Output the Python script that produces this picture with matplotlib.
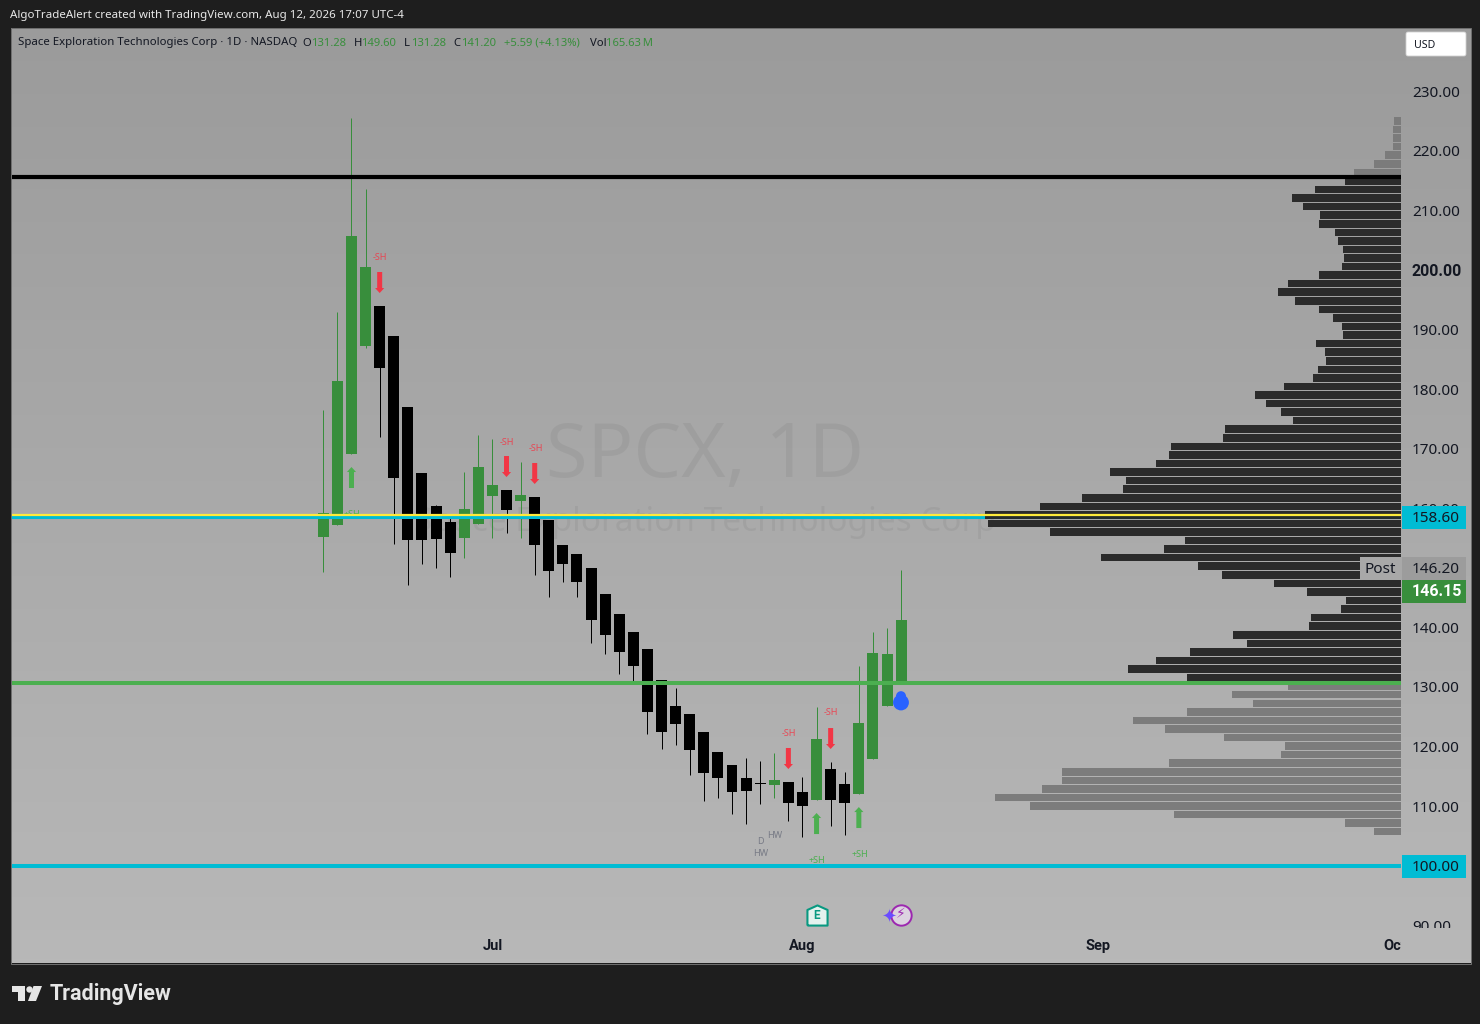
import numpy as np
import matplotlib
matplotlib.use('Agg')
import matplotlib.pyplot as plt
from matplotlib.colors import LinearSegmentedColormap
from matplotlib.patches import Rectangle, FancyBboxPatch, Polygon, Circle
from matplotlib.transforms import Bbox

plt.rcParams['font.family'] = ['Noto Sans', 'DejaVu Sans']

# daily candles
opens = [155.18, 157.19, 169.12, 187.25, 193.97, 188.93, 177.01, 165.92, 160.38, 157.70, 155.01, 157.36, 162.06, 163.07,
         161.22, 161.89, 158.03, 153.84, 152.32, 149.97, 145.61, 142.25, 139.23, 136.37, 131.16, 126.80, 125.45, 122.43,
         119.07, 116.89, 114.71, 113.70, 113.53, 114.03, 112.36, 111.01, 116.22, 113.70, 112.02, 117.90, 126.80, 130.70]
highs = [176.51, 192.96, 225.54, 213.62, 193.97, 188.93, 177.01, 165.92, 160.55, 158.37, 166.09, 172.31, 171.64, 163.07,
         167.77, 161.89, 158.03, 153.84, 152.32, 149.97, 145.61, 142.25, 139.23, 136.37, 131.16, 129.82, 125.45, 122.43,
         119.07, 116.89, 118.06, 117.56, 118.90, 114.03, 114.88, 126.63, 117.39, 115.71, 133.52, 139.23, 139.90, 149.60]
lows = [149.30, 157.19, 169.12, 186.92, 171.97, 154.00, 147.12, 150.65, 149.97, 148.47, 151.65, 157.36, 155.01, 155.85,
        155.01, 148.80, 145.10, 147.62, 145.10, 137.38, 135.53, 132.17, 131.00, 122.10, 119.58, 120.25, 115.21, 110.84,
        111.35, 108.66, 106.98, 110.34, 111.35, 107.49, 104.80, 111.01, 106.65, 105.13, 112.02, 117.90, 126.80, 130.70]
closes = [159.21, 181.38, 205.73, 200.52, 183.56, 165.08, 154.67, 154.67, 154.84, 152.49, 159.88, 166.93, 163.91, 159.71,
          162.23, 153.84, 149.47, 150.65, 147.62, 141.24, 138.72, 135.87, 133.52, 125.79, 122.43, 123.77, 119.41, 115.55,
          114.71, 112.36, 112.52, 113.70, 114.37, 110.50, 110.00, 121.26, 111.01, 110.50, 123.94, 135.70, 135.53, 141.20]

# volume profile, top row to bottom row
profile = [7, 8, 8, 8, 16, 27, 47, 56, 86, 109, 98, 81, 82, 66, 63, 58, 57, 59, 82, 113, 123, 106, 82, 68, 59, 58, 85, 76,
           75, 83, 88, 117, 146, 135, 120, 108, 176, 178, 230, 232, 245, 291, 275, 278, 319, 361, 416, 413, 351, 216, 237,
           300, 203, 179, 127, 94, 55, 60, 90, 92, 168, 154, 211, 245, 273, 214, 113, 169, 148, 214, 268, 236, 177, 116,
           120, 232, 339, 339, 359, 406, 371, 227, 56, 27]
profile_top = 225.76
profile_bottom = 104.97
profile_gray_top = 7
profile_gray_bottom = 18

# signal arrows: bar, tail, tip, label price
sell_bars = [4, 13, 15, 33, 36]
sell_tails = [199.68, 168.78, 167.61, 119.75, 123.10]
sell_tips = [196.15, 165.25, 164.08, 116.22, 119.58]
sell_labels = [202.25, 171.30, 170.17, 122.31, 125.84]
buy_bars = [2, 35, 38]
buy_tails = [163.41, 105.30, 106.31]
buy_tips = [166.93, 108.83, 109.83]
buy_labels = [159.21, 101.05, 102.05]

price_ticks = [230, 220, 210, 200, 190, 180, 170, 160, 150, 140, 130, 120, 110, 100, 90]
month_bars = [12, 34, 55, 76]
month_names = ['Jul', 'Aug', 'Sep', 'Oct']

black_level = 215.63
yellow_level = 158.87
cyan_levels = [158.60, 100.00]
green_level = 130.66
post_price = 146.20
last_price = 146.15

W, H = 1480, 1024
GREEN = '#388e3c'
BG = '#1e1e1e'
INK = '#131722'


def frame(x0, y0, x1, y1):
    return [x0 / W, 1 - y1 / H, (x1 - x0) / W, (y1 - y0) / H]


fig = plt.figure(figsize=(W / 100, H / 100), dpi=100, facecolor=BG)

# chart background
bg = fig.add_axes(frame(11, 28, 1471, 963), zorder=0)
bg.imshow(np.linspace(0, 1, 256).reshape(-1, 1), cmap=LinearSegmentedColormap.from_list('g', ['#9b9b9b', '#b8b8b8']),
          aspect='auto', extent=(0, 1, 0, 1))
bg.axis('off')

ax = fig.add_axes(frame(11, 28, 1401, 963), zorder=1, facecolor='none')
x = np.arange(len(opens))
o, h, l, c = map(np.array, (opens, highs, lows, closes))
colors = np.where(c > o, GREEN, '#000000')

ax.vlines(x, l, h, colors=colors, lw=0.72, zorder=2, snap=True)
ax.bar(x, np.maximum(np.abs(c - o), 0.17), bottom=np.minimum(o, c), width=0.78, color=colors, lw=0, zorder=3)

# watermark
wm = dict(color='#000000', alpha=0.05, ha='center', va='center', zorder=1)
ax.text(27.1, 168.6, 'SPCX, 1D', fontsize=54.5, **wm)
ax.text(27.1, 157.6, 'Space Exploration Technologies Corp', fontsize=24, **wm)

for b, t, tip, lab in zip(sell_bars, sell_tails, sell_tips, sell_labels):
    ax.annotate('', xy=(b, tip), xytext=(b, t), zorder=6,
                arrowprops=dict(width=3.6, headwidth=6.6, headlength=3.6, color='#f23645', shrink=0, lw=0))
    ax.text(b + 0.05, lab, '-SH', color='#f23645', alpha=0.85, fontsize=6.5, ha='center', va='center_baseline', zorder=6)
for b, t, tip, lab in zip(buy_bars, buy_tails, buy_tips, buy_labels):
    ax.annotate('', xy=(b, tip), xytext=(b, t), zorder=6,
                arrowprops=dict(width=3.6, headwidth=6.6, headlength=3.6, color='#4caf50', shrink=0, lw=0))
    ax.text(b + 0.05, lab, '+SH', color='#4caf50', fontsize=6.5, ha='center', va='center_baseline', zorder=2)

ax.text(32, 105.25, 'HW', color='#787b86', fontsize=6.5, ha='center', va='center_baseline')
ax.text(31, 104.18, 'D', color='#787b86', fontsize=6.5, ha='center', va='center_baseline')
ax.text(31, 102.16, 'HW', color='#787b86', fontsize=6.5, ha='center', va='center_baseline')

for level in cyan_levels:
    ax.axhline(level, color='#00bcd4', lw=2.9, zorder=5)

# earnings and news icons under the bars
house = [(-1, -1), (1, -1), (1, 0.55), (0, 1), (-1, 0.55), (-1, -1)]
ax.scatter([35], [91.7], marker=house, s=210, facecolor='#e3f2ee', edgecolor='#089981', lw=1.5, zorder=7)
ax.text(35, 91.6, 'E', color='#089981', fontsize=8.5, family='Roboto', weight='bold', ha='center', va='center', zorder=8)
ax.scatter([41.0], [91.7], marker='o', s=215, facecolor='#dcd3e0', edgecolor='#9c27b0', lw=1.4, zorder=7)
ax.text(41.0, 91.7, '\u26a1', color='#9c27b0', fontsize=10, ha='center', va='center', zorder=8)
ax.text(40.1, 91.3, '\u2726', color='#6a4cff', fontsize=13, ha='center', va='center', zorder=8)

ax.set_xlim(-22.16, 76.47)
ax.set_ylim(220 - (963 - 151) / 5.955, 220 + (151 - 28) / 5.955)
for s in ax.spines.values():
    s.set_visible(False)
ax.yaxis.tick_right()
ax.set_yticks(price_ticks)
ax.set_yticklabels([f'{p:.2f}' for p in price_ticks], fontsize=11, color=INK)
ax.tick_params(axis='y', length=0, pad=7.9)
ax.set_xticks(month_bars)
ax.set_xticklabels(month_names, fontsize=10.5, family='Roboto', weight='bold', color=INK)
ax.tick_params(axis='x', length=0, pad=-17)
for lab, p in zip(ax.get_yticklabels(), price_ticks):
    if p == 200:
        lab.set_family('Roboto')
        lab.set_fontweight('bold')
        lab.set_fontsize(11.5)
    if p == 90:
        lab.set_clip_box(Bbox([[1400, H - 928], [1472, H - 800]]))
        lab.set_clip_on(True)
for lab in ax.get_xticklabels():
    lab.set_clip_box(Bbox([[0, 0], [1401, H]]))
    lab.set_clip_on(True)

# volume profile on its own x scale, counted leftwards from the scale edge
vp = ax.twiny()
vp.set_xlim(1390, 0)
vp.set_ylim(ax.get_ylim())
vp.axis('off')
vp.patch.set_visible(False)
edges = np.linspace(profile_top, profile_bottom, len(profile) + 1)
centers = (edges[:-1] + edges[1:]) / 2
row_h = abs(edges[1] - edges[0]) * 0.88
n = len(profile)
vp_colors = ['#7a7a7a' if (i < profile_gray_top or i >= n - profile_gray_bottom) else '#262626' for i in range(n)]
vp.barh(centers, profile, height=row_h, color=vp_colors, lw=0, alpha=0.96, zorder=2)

vp.hlines(black_level, 0, 1390, color='#000000', lw=3.0, zorder=5)
vp.hlines(green_level, 0, 1390, color='#4caf50', lw=2.9, zorder=5)
vp.hlines(yellow_level, 0, 1390, color='#ffeb3b', lw=1.6, zorder=6)
vp.set_xlim(1390, 0)

# post-market dot on the last bar, placed on the volume scale from the bar position
drop_px = 1390 - (323.3 + 14.09 * 41 - 11)
vp.scatter([drop_px, drop_px], [127.39, 128.45], s=[130, 52], color='#2962ff', lw=0, zorder=7)

# chrome drawn in pixel coordinates
ov = fig.add_axes([0, 0, 1, 1], zorder=10, facecolor='none')
ov.set_xlim(0, W)
ov.set_ylim(H, 0)
ov.axis('off')

ov.add_patch(Rectangle((10.5, 27.5), 1460, 936, fc='none', ec='#6e6e6e', lw=0.72))

ov.text(10, 15.5, 'AlgoTradeAlert created with TradingView.com, Aug 12, 2026 17:07 UTC-4', color='#e8e8e8', fontsize=8.3,
        va='center')

ov.text(18, 43, 'Space Exploration Technologies Corp \u00b7 1D \u00b7 NASDAQ', color=INK, fontsize=8.2, va='center')
header = [(302.5, 'O', INK), (311, '131.28', GREEN), (353.5, 'H', INK), (361.5, '149.60', GREEN), (404, 'L', INK),
          (411, '131.28', GREEN), (453.5, 'C', INK), (461.5, '141.20', GREEN), (503.5, '+5.59 (+4.13%)', GREEN),
          (590, 'Vol', INK), (606, '165.63\u2009M', GREEN)]
for hx, txt, col in header:
    ov.text(hx, 43, txt, color=col, fontsize=8.1, va='center')

ov.add_patch(FancyBboxPatch((1406, 32), 60, 24, boxstyle='round,pad=0,rounding_size=2', fc='#ffffff', ec='#d0d0d0', lw=0.6))
ov.text(1414, 45, 'USD', color=INK, fontsize=7.6, va='center')

# price boxes
ov.add_patch(Rectangle((1402, 506), 64, 23, fc='#00bcd4', lw=0))
ov.text(1412, 518.5, f'{cyan_levels[0]:.2f}', color=INK, fontsize=11, va='center')
ov.add_patch(Rectangle((1402, 855), 64, 23, fc='#00bcd4', lw=0))
ov.text(1412, 867.5, f'{cyan_levels[1]:.2f}', color=INK, fontsize=11, va='center')
ov.add_patch(Rectangle((1360, 557), 41.5, 23, fc='#a8a8a8', lw=0))
ov.text(1380.5, 569.5, 'Post', color=INK, fontsize=11, ha='center', va='center')
ov.add_patch(Rectangle((1402, 557), 64, 23, fc='#9c9c9c', lw=0))
ov.text(1412, 569.5, f'{post_price:.2f}', color=INK, fontsize=11, va='center')
ov.add_patch(Rectangle((1402, 580), 64, 23, fc=GREEN, lw=0))
ov.text(1412, 592, f'{last_price:.2f}', color='#ffffff', fontsize=11.5, family='Roboto', weight='bold', va='center')

# TradingView logo
ov.add_patch(Polygon([(12, 986), (25, 986), (25, 1001), (17.5, 1001), (17.5, 992), (12, 992)], fc='#e6e6e6', lw=0))
ov.add_patch(Circle((29.5, 989.5), 3.2, fc='#e6e6e6', lw=0))
ov.add_patch(Polygon([(33.5, 986), (42, 986), (36, 1001), (28, 1001)], fc='#e6e6e6', lw=0))
ov.text(49.5, 994, 'TradingView', color='#e6e6e6', fontsize=15.5, family='Roboto', weight='bold', va='center')

fig.savefig('out.png', dpi=100, facecolor=BG)
